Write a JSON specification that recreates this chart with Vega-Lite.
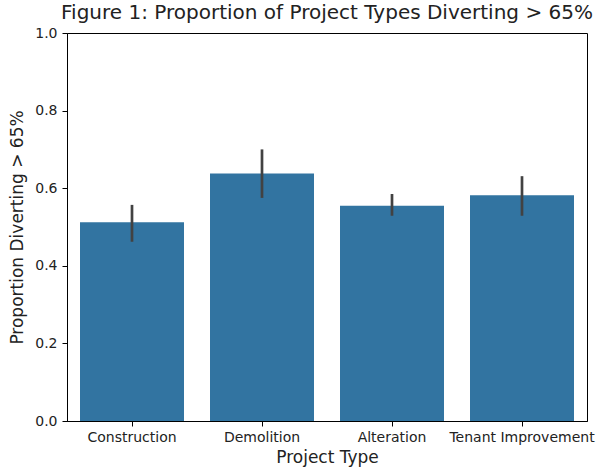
{
  "$schema": "https://vega.github.io/schema/vega-lite/v6.json",
  "autosize": "none",
  "padding": {"left": 67, "top": 33, "right": 15, "bottom": 51},
  "width": 520,
  "height": 388,
  "background": "white",
  "config": {
    "font": "DejaVu Sans",
    "view": {"stroke": "black", "strokeWidth": 1},
    "axis": {"grid": false, "domainColor": "black", "tickColor": "black", "labelColor": "#222222", "titleColor": "#222222", "labelFont": "DejaVu Sans", "titleFont": "DejaVu Sans", "titleFontWeight": "normal", "labelFontSize": 14, "titleFontSize": 17, "tickSize": 5}
  },
  "title": {"text": "Figure 1: Proportion of Project Types Diverting > 65%", "fontSize": 20, "fontWeight": "normal", "font": "DejaVu Sans", "color": "#222222", "offset": 3, "anchor": "middle"},
  "data": {"values": [
    {"type": "Construction", "p": 0.512, "lo": 0.462, "hi": 0.557},
    {"type": "Demolition", "p": 0.638, "lo": 0.575, "hi": 0.700},
    {"type": "Alteration", "p": 0.555, "lo": 0.529, "hi": 0.585},
    {"type": "Tenant Improvement", "p": 0.582, "lo": 0.529, "hi": 0.631}
  ]},
  "encoding": {
    "x": {"field": "type", "type": "nominal", "sort": null, "scale": {"paddingInner": 0.2, "paddingOuter": 0.1}, "axis": {"title": "Project Type", "labelAngle": 0, "titlePadding": 5, "labelPadding": 4}}
  },
  "layer": [
    {"mark": {"type": "bar", "color": "#3274A1"},
     "encoding": {"y": {"field": "p", "type": "quantitative", "scale": {"domain": [0, 1], "nice": false}, "axis": {"title": "Proportion Diverting > 65%", "format": ".1f", "values": [0, 0.2, 0.4, 0.6, 0.8, 1.0], "titlePadding": 8, "labelPadding": 5}}}},
    {"mark": {"type": "rule", "color": "#424242", "strokeWidth": 2.7},
     "encoding": {"y": {"field": "lo", "type": "quantitative"}, "y2": {"field": "hi"}}}
  ]
}
